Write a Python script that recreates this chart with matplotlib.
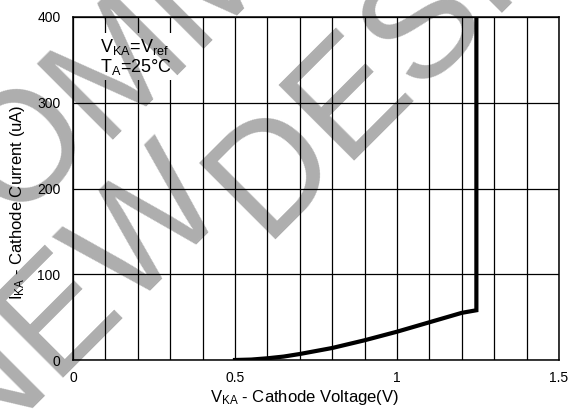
import numpy as np
import matplotlib.pyplot as plt
from matplotlib.transforms import IdentityTransform

plt.rcParams['font.family'] = ['Liberation Sans', 'DejaVu Sans']
plt.rcParams['mathtext.fontset'] = 'custom'
plt.rcParams['mathtext.rm'] = 'Liberation Sans'

# cathode voltage (V) vs cathode current (uA)
vka = [0.5, 0.55, 0.6, 0.65, 0.7, 0.8, 0.9, 1.0, 1.1, 1.2, 1.245, 1.245]
ika = [0, 0.5, 2, 4, 7, 14, 23, 33, 44, 55, 58, 400]

xticks = np.arange(0, 1.51, 0.1)
xlabels = ['0', '', '', '', '', '0.5', '', '', '', '', '1', '', '', '', '', '1.5']
yticks = [0, 100, 200, 300, 400]
ylabels = ['0', '100', '200', '300', '400']

W, H = 570, 412
fig = plt.figure(figsize=(W / 100, H / 100), dpi=100)
ax = fig.add_axes([73 / W, 1 - 360 / H, (559 - 73) / W, (360 - 17) / H])

ax.plot(vka, ika, color='black', lw=3, solid_joinstyle='miter', zorder=3)

ax.set_xlim(0, 1.5)
ax.set_ylim(0, 400)
ax.set_xticks(xticks)
ax.set_xticklabels(xlabels)
ax.set_yticks(yticks)
ax.set_yticklabels(ylabels)
ax.tick_params(length=0, labelsize=10, pad=8)
ax.tick_params(axis='y', pad=9)
ax.grid(True, color='black', lw=0.9)
ax.set_axisbelow(True)
for s in ax.spines.values():
    s.set_linewidth(1.1)

ax.set_xlabel('V$\\mathregular{_{KA}}$ - Cathode Voltage(V)', fontsize=12)
ax.xaxis.set_label_coords(0.477, -0.082)
ax.set_ylabel('I$\\mathregular{_{KA}}$ - Cathode Current (uA)', fontsize=12)
ax.yaxis.set_label_coords(-0.095, 0.46)

ax.text(0.083, 336, 'V$\\mathregular{_{KA}}$=V$\\mathregular{_{ref}}$\nT$\\mathregular{_A}$=25°C',
        fontsize=13, va='baseline', linespacing=1.0, zorder=4,
        bbox=dict(boxstyle='square,pad=0.2', fc='white', ec='none'))

# semi-transparent watermark, positions in pixels from the top-left corner
wm = dict(color='black', alpha=0.32, fontsize=112, rotation=45,
          rotation_mode='anchor', va='baseline', transform=IdentityTransform(), zorder=10)
fig.text(100, H - 140, 'MMENDED', ha='left', **wm)
fig.text(100, H - 140, 'NOT RECO', ha='right', **wm)
fig.text(263, H - 240, 'DESIGN', ha='left', **wm)
fig.text(263 - 31, H - 240 + 31, 'FOR NEW', ha='right', **wm)

fig.savefig('out.png', dpi=100)
